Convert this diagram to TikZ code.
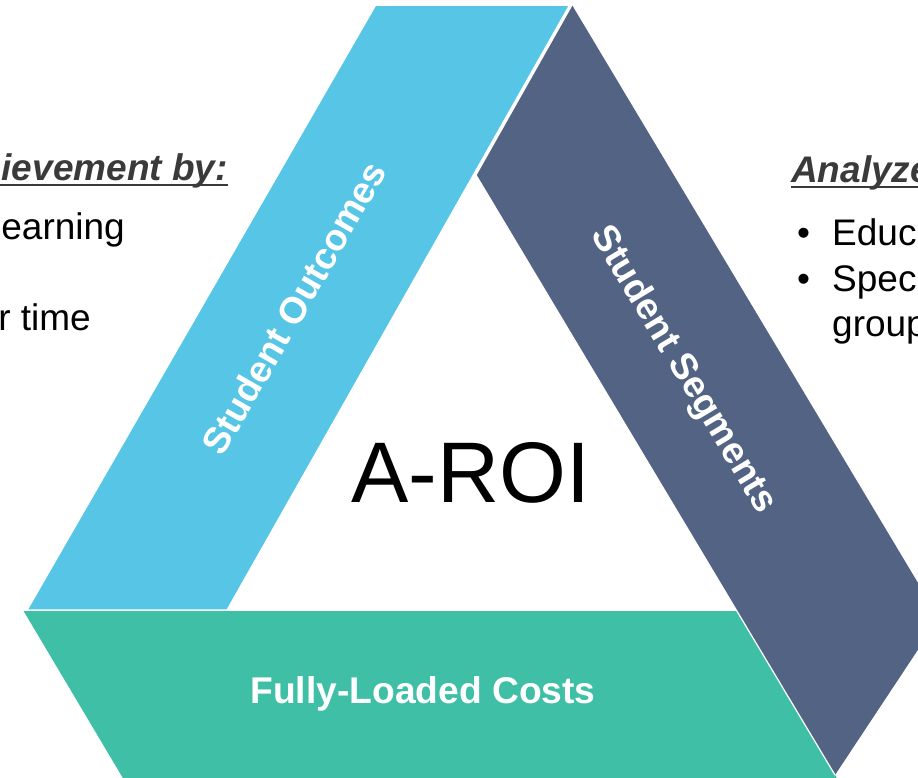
\documentclass[tikz,border=0pt]{standalone}
\usepackage{fontspec}
\setmainfont{Liberation Sans}
\definecolor{outcomes}{HTML}{56C5E6}
\definecolor{segments}{HTML}{526384}
\definecolor{costs}{HTML}{40BFA7}
\definecolor{headgrey}{HTML}{3A3A3A}

\begin{document}
\begin{tikzpicture}[x=1pt,y=-1pt,
  band/.style={draw=white, line width=1.2pt, line join=miter},
  bandlabel/.style={text=white, inner sep=0pt,
    font=\fontsize{37.2}{40}\selectfont\bfseries},
  bodytext/.style={inner sep=0pt, text=black,
    font=\fontsize{37}{44}\selectfont},
  headtext/.style={inner sep=0pt, text=headgrey,
    font=\fontsize{37}{44}\selectfont\bfseries\itshape},
  headrule/.style={headgrey, line width=2pt}]
\useasboundingbox (0,0) rectangle (918,777);
\clip (0,0) rectangle (918,777);

% the three bands of the triangle
\fill[costs] (23,610) -- (736,610) -- (844,790) -- (130,790) -- cycle;
\draw[band] (23,610) -- (736,610);
\fill[outcomes] (376,6) -- (569,6) -- (227,610) -- (28,610) -- cycle;
\draw[band] (569,6) -- (227,610) -- (28,610);
\fill[segments] (572,5) -- (939,618) -- (835,775) -- (476,175) -- cycle;
\draw[band] (572,5) -- (476,175) -- (835,775);

% band labels
\node[bandlabel, rotate=60] (outc) at (294,308) {Student Outcomes};
\node[bandlabel, rotate=-59] (segm) at (683,370) {Student Segments};
\node[bandlabel] (cost) at (423,694) {Fully-Loaded Costs};

% centre title
\node[inner sep=0pt, font=\fontsize{86}{90}\selectfont] (aroi) at (471,473) {A-ROI};

% left text block
\node[headtext, anchor=base east] (lhead) at (228,180) {Achievement by:};
\draw[headrule] ([yshift=-5pt]lhead.base west) -- ([yshift=-5pt]lhead.base east);
\node[bodytext, anchor=base east] (l1) at (125,239) {learning};
\node[bodytext, anchor=base east] (l2) at (91,330) {over time};

% right text block
\node[headtext, anchor=base west] (rhead) at (791,182) {Analyze by:};
\draw[headrule] ([yshift=-5pt]rhead.base west) -- ([yshift=-5pt]rhead.base east);
\node[bodytext, anchor=base west] (b1) at (797,245) {\textbullet};
\node[bodytext, anchor=base west] (r1) at (832,245) {Education};
\node[bodytext, anchor=base west] (b2) at (797,291) {\textbullet};
\node[bodytext, anchor=base west] (r2) at (832,291) {Special};
\node[bodytext, anchor=base west] (r3) at (832,336) {groups};
\end{tikzpicture}
\end{document}
